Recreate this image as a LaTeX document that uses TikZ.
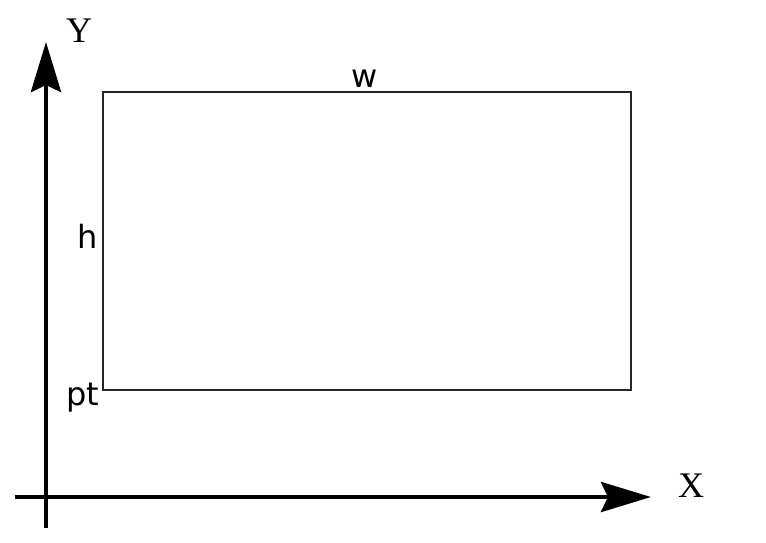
\documentclass[tikz,border=0pt]{standalone}
\usepackage{fontspec}
\setmainfont{Liberation Serif}
\newfontfamily\labfont{DejaVu Sans}
\usetikzlibrary{arrows.meta}
\begin{document}
\begin{tikzpicture}[x=1pt,y=-1pt,
  axis/.style={line width=4.5pt,-{Stealth[length=50pt,width=30pt,inset=7pt]}},
  box/.style={draw=black!85,line width=1.6pt,inner sep=0pt,outer sep=0pt,minimum width=528pt,minimum height=298pt},
  axlab/.style={font=\fontsize{36}{36}\selectfont,inner sep=0pt,anchor=base},
  dimlab/.style={font=\labfont\fontsize{32}{32}\selectfont,inner sep=0pt,anchor=base}]
\useasboundingbox (0,0) rectangle (766,542);
\coordinate (ys) at (46,528);
\coordinate (ye) at (46,42);
\coordinate (xs) at (15,497);
\coordinate (xe) at (651,497);
\draw[axis] (ys) -- (ye);
\draw[axis] (xs) -- (xe);
\node[box] (r) at (367,241) {};
\node[axlab] (ylab) at (79,42) {Y};
\node[axlab] (xlab) at (691,497) {X};
\node[dimlab] (w) at (365,87) {w};
\node[dimlab] (h) at (88,248) {h};
\node[dimlab] (pt) at (83,405) {pt};
\end{tikzpicture}
\end{document}
